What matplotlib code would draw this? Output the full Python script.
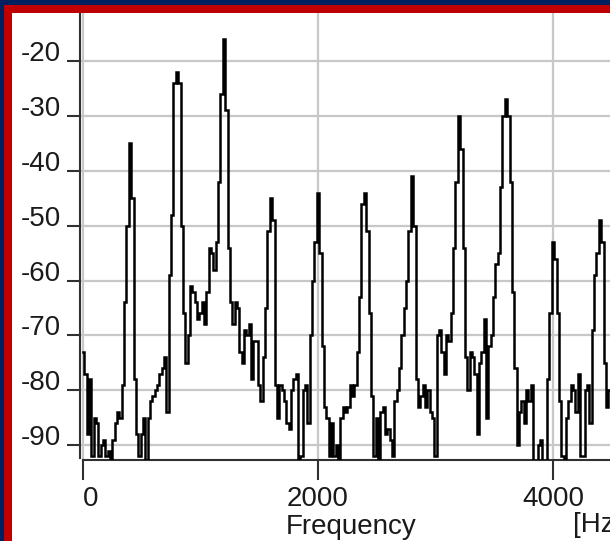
import numpy as np
import matplotlib
matplotlib.use("Agg")
import matplotlib.pyplot as plt
from matplotlib.patches import Rectangle

# spectrum, 20 Hz per sample, 0 .. 4480 Hz
FREQ_STEP = 20
LEVEL_DB = [
    -73, -77, -88, -78, -92, -85, -86, -92, -90, -89,
    -92, -91, -93, -89, -86, -84, -85, -79, -64, -50,
    -35, -45, -78, -88, -92, -88, -85, -93, -85, -82,
    -81, -80, -79, -77, -76, -74, -84, -59, -48, -24,
    -22, -24, -50, -66, -75, -70, -61, -62, -64, -67,
    -66, -64, -68, -62, -54, -55, -58, -53, -42, -26,
    -16, -29, -54, -64, -68, -64, -65, -73, -75, -69,
    -70, -68, -78, -71, -71, -79, -82, -74, -65, -51,
    -45, -49, -79, -85, -79, -80, -82, -86, -87, -80,
    -78, -77, -93, -92, -80, -79, -86, -70, -60, -53,
    -44, -55, -72, -83, -85, -92, -86, -92, -90, -93,
    -85, -83, -84, -83, -79, -81, -79, -73, -63, -46,
    -44, -51, -66, -81, -92, -85, -93, -84, -83, -88,
    -87, -89, -92, -82, -80, -76, -70, -65, -60, -51,
    -41, -50, -78, -83, -81, -79, -83, -80, -84, -85,
    -92, -70, -69, -73, -77, -70, -71, -66, -54, -42,
    -30, -36, -54, -74, -80, -73, -74, -77, -88, -75,
    -73, -67, -85, -72, -70, -63, -57, -55, -43, -30,
    -27, -30, -42, -62, -76, -90, -84, -82, -86, -80,
    -82, -79, -93, -93, -90, -89, -93, -93, -78, -66,
    -53, -56, -66, -82, -92, -93, -85, -82, -79, -80,
    -84, -77, -92, -92, -80, -79, -86, -69, -59, -55,
    -49, -53, -75, -83, -80,
]
Y_TICKS = [-20, -30, -40, -50, -60, -70, -80, -90]
X_TICKS = [0, 2000, 4000]

freq = np.arange(len(LEVEL_DB)) * FREQ_STEP

W, H = 610, 541
plt.rcParams["font.family"] = ["Liberation Sans Narrow", "Liberation Sans", "DejaVu Sans"]
FS = 20

fig = plt.figure(figsize=(W / 100, H / 100), dpi=100)
fig.patch.set_facecolor("white")

def px_rect(x, y, w, h, color):
    # x, y from top-left in pixels
    fig.add_artist(Rectangle((x / W, 1 - (y + h) / H), w / W, h / H,
                             transform=fig.transFigure, color=color, lw=0, zorder=10))

# window frame (only top and left visible in the crop)
px_rect(0, 0, W, 5, "#002060")
px_rect(0, 0, 4, H, "#002060")
px_rect(4, 5, W - 4, 8, "#c00000")
px_rect(4, 5, 8, H - 5, "#c00000")

ax = fig.add_axes([80 / W, 81 / H, (W - 80) / W, (460 - 13) / H])
ax.plot(freq, LEVEL_DB, color="black", lw=1.8, drawstyle="steps-mid",
        solid_joinstyle="miter", zorder=3)

ax.set_xlim(-25.5, 4485)
ax.set_ylim(-92.7, -11.25)

ax.set_yticks(Y_TICKS)
ax.set_xticks(X_TICKS)
ax.set_yticklabels([str(v) for v in Y_TICKS])
ax.set_xticklabels([str(v) for v in X_TICKS])
for lab in ax.get_yticklabels():
    lab.set_verticalalignment("baseline")
# the "0" label starts at its tick in the original
ax.get_xticklabels()[0].set_horizontalalignment("left")

ax.grid(True, color="#c8c8c8", lw=1.6, zorder=1)
ax.set_axisbelow(True)

for side in ("top", "right"):
    ax.spines[side].set_visible(False)
ax.spines["left"].set_color("#303030")
ax.spines["bottom"].set_color("#303030")
ax.spines["left"].set_linewidth(1.5)
ax.spines["bottom"].set_linewidth(1.5)
ax.spines["bottom"].set_bounds(0, 4485)
ax.spines["left"].set_bounds(-92.3, -11.25)

ax.tick_params(axis="y", direction="out", length=9.5, width=1.5, color="#303030",
               pad=4.5, labelsize=FS, labelcolor="#1a1a1a")
ax.tick_params(axis="x", direction="out", length=14.5, width=1.5, color="#303030",
               pad=4.5, labelsize=FS, labelcolor="#1a1a1a")

fig.text(351 / W, 1 - 514 / H, "Frequency", ha="center", va="top",
         fontsize=FS, color="#1a1a1a")
fig.text(573 / W, 1 - 512 / H, "[Hz]", ha="left", va="top",
         fontsize=FS, color="#1a1a1a")

fig.savefig("out.png", dpi=100, facecolor="white")
